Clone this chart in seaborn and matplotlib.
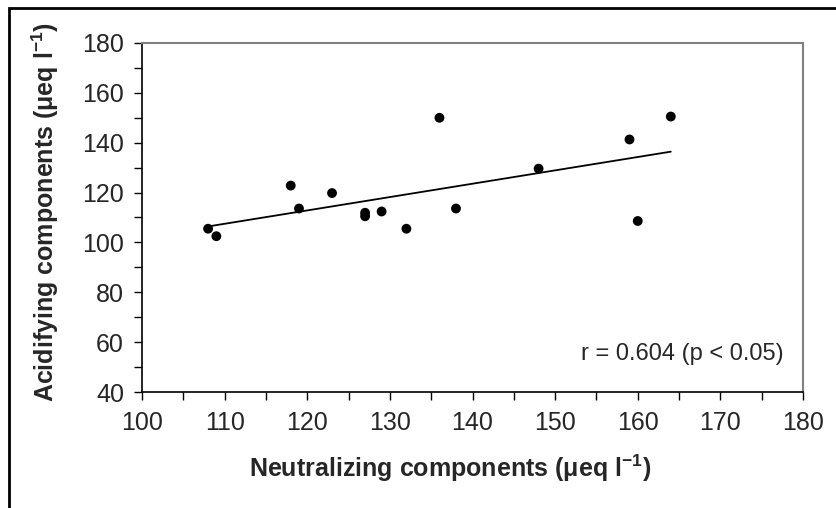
import matplotlib
matplotlib.use("Agg")
import matplotlib.pyplot as plt
import matplotlib.patches as patches
from matplotlib.ticker import MultipleLocator
import seaborn as sns
import numpy as np

# Data
neutralizing = [108, 109, 118, 119, 123, 127, 127, 129, 132, 136, 138, 148, 159, 160, 164]
acidifying = [105.5, 102.5, 122.8, 113.6, 119.8, 111.9, 110.5, 112.4, 105.5, 150.0, 113.6, 129.6, 141.3, 108.6, 150.5]
x_ticks = [100, 110, 120, 130, 140, 150, 160, 170, 180]
y_ticks = [40, 60, 80, 100, 120, 140, 160, 180]
annotation = "r = 0.604 (p < 0.05)"
x_label = r"Neutralizing components (μeq l$^{\mathbf{-1}}$)"
y_label = r"Acidifying components (μeq l$^{\mathbf{-1}}$)"

sns.set_style("white")
plt.rcParams["font.family"] = ["Liberation Sans", "DejaVu Sans"]
plt.rcParams["mathtext.fontset"] = "custom"
plt.rcParams["mathtext.rm"] = "Liberation Sans"
plt.rcParams["mathtext.bf"] = "Liberation Sans:bold"

W, H = 837, 508
fig = plt.figure(figsize=(W / 100, H / 100), dpi=100)
L, R, T, B = 142, 803, 43, 392
ax = fig.add_axes([L / W, 1 - B / H, (R - L) / W, (B - T) / H])

sns.regplot(x=neutralizing, y=acidifying, ax=ax, ci=None,
            scatter_kws=dict(s=50, color="black", edgecolors="none", alpha=1),
            line_kws=dict(color="black", lw=1.3))

ax.set_xlim(100, 180)
ax.set_ylim(40, 180)
ax.set_xticks(x_ticks)
ax.set_yticks(y_ticks)
ax.xaxis.set_minor_locator(MultipleLocator(5))
ax.yaxis.set_minor_locator(MultipleLocator(10))
ax.tick_params(axis="both", which="both", direction="out", length=6, width=1,
               color="black", labelsize=18)
ax.tick_params(axis="x", which="both", bottom=True, top=False, pad=8)
ax.tick_params(axis="y", which="both", left=True, right=False, pad=7)

for side in ["left", "bottom"]:
    ax.spines[side].set_color("black")
    ax.spines[side].set_linewidth(1.2)
for side in ["top", "right"]:
    ax.spines[side].set_color("#808080")
    ax.spines[side].set_linewidth(1.5)

ax.set_xlabel(x_label, fontsize=18, fontweight="bold")
ax.set_ylabel(y_label, fontsize=18, fontweight="bold")
ax.xaxis.set_label_coords((450 - L) / (R - L), (B - 468) / (B - T))
ax.xaxis.label.set_va("center")
ax.yaxis.set_label_coords((45 - L) / (R - L), (B - 212) / (B - T))
ax.yaxis.label.set_va("center")

ax.text((784 - L) / (R - L), (B - 354) / (B - T), annotation, transform=ax.transAxes,
        ha="right", va="center", fontsize=17)

# outer frame (partially cropped)
fig.patches.append(patches.Rectangle((9 / W, -0.5), 2, 1.5 - 8 / H, transform=fig.transFigure,
                                     fill=False, edgecolor="black", lw=2, clip_on=False))

fig.savefig("out.png", dpi=100)
